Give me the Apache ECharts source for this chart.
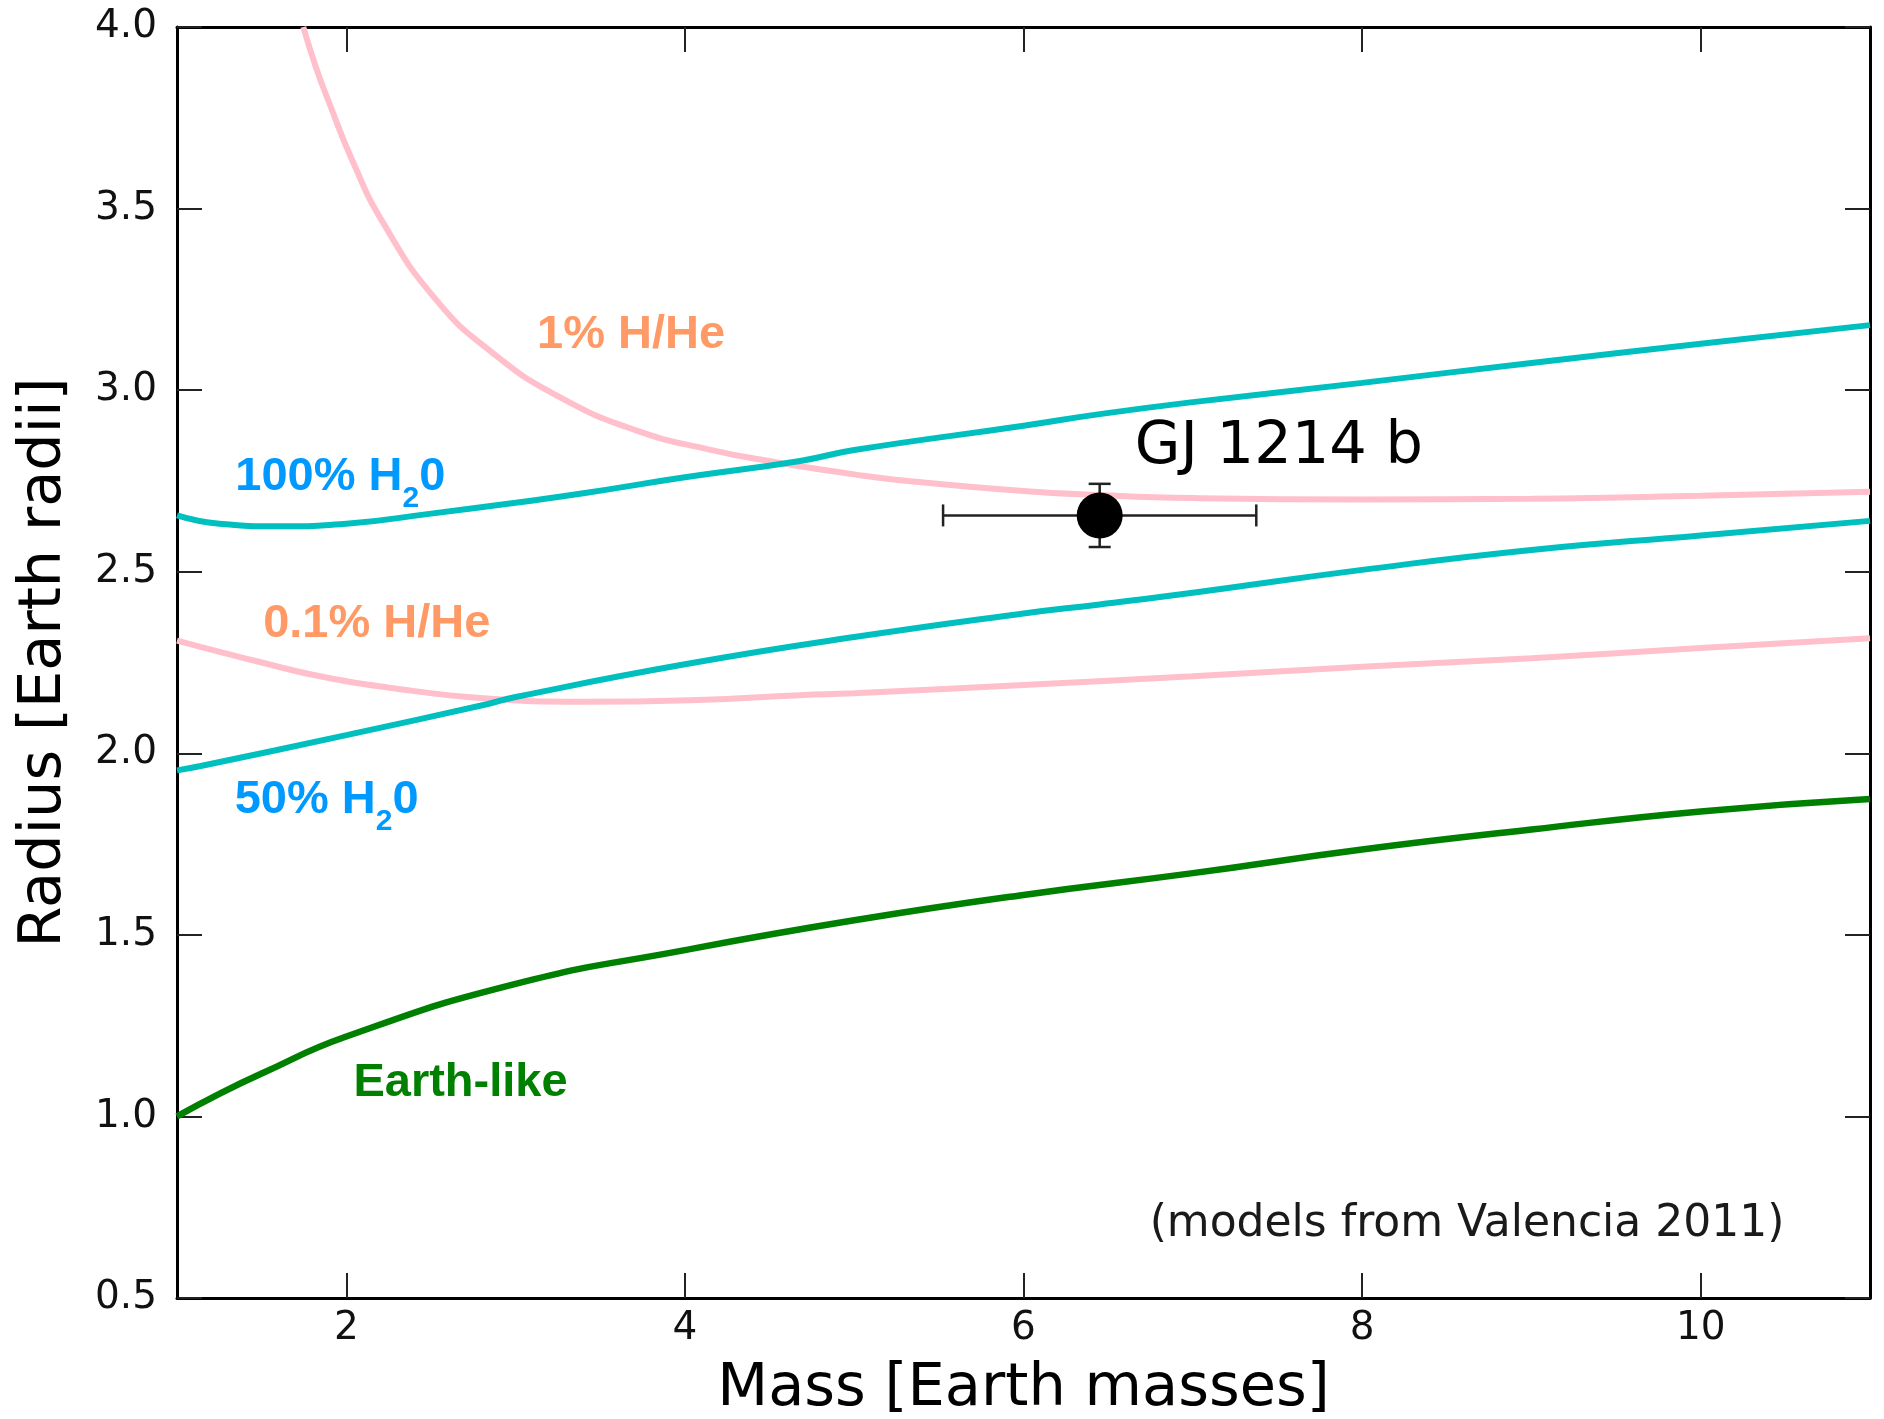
<!DOCTYPE html>
<html><head><meta charset="utf-8">
<script src="https://cdn.jsdelivr.net/npm/echarts@6/dist/echarts.min.js"></script>
<style>html,body{margin:0;padding:0;background:#fff}#c{width:1884px;height:1419px}</style>
</head><body><div id="c"></div>
<script>
// ---- data ----
const xTicks = [2, 4, 6, 8, 10];

const massHHe1 = [1.746, 1.82, 1.90, 2.035, 2.216, 2.532, 2.871, 3.255, 3.707, 4.159, 4.52, 5.0, 5.27, 6.0, 6.45, 7.0, 8.0, 9.0, 10.0, 11.0];
const radiusHHe1 = [4.00, 3.89, 3.79, 3.633, 3.462, 3.248, 3.10, 2.982, 2.89, 2.835, 2.803, 2.768, 2.752, 2.722, 2.711, 2.703, 2.699, 2.701, 2.709, 2.72];

const massHHe01 = [1.0, 1.139, 1.5, 1.815, 2.267, 2.83, 3.397, 4.074, 4.68, 5.0, 6.0, 7.0, 8.0, 9.0, 10.0, 11.0];
const radiusHHe01 = [2.31, 2.293, 2.25, 2.215, 2.18, 2.151, 2.142, 2.147, 2.16, 2.165, 2.188, 2.212, 2.238, 2.262, 2.29, 2.317];

const massH2O100 = [1.0, 1.25, 1.6, 2.0, 2.5, 3.0, 3.4, 4.0, 4.68, 5.0, 6.0, 6.45, 7.0, 8.0, 9.0, 10.0, 11.0];
const radiusH2O100 = [2.655, 2.632, 2.625, 2.632, 2.66, 2.69, 2.716, 2.76, 2.805, 2.835, 2.902, 2.934, 2.967, 3.02, 3.075, 3.128, 3.179];

const massH2O50 = [1.0, 1.14, 2.0, 2.83, 3.0, 4.0, 5.0, 6.0, 6.45, 7.0, 8.0, 9.0, 10.0, 11.0];
const radiusH2O50 = [1.953, 1.965, 2.05, 2.135, 2.155, 2.245, 2.32, 2.385, 2.41, 2.442, 2.505, 2.56, 2.60, 2.64];

const massEarth = [1.0, 1.25, 1.5, 2.0, 3.0, 4.0, 5.0, 6.0, 7.0, 8.0, 9.0, 10.0, 11.0];
const radiusEarth = [1.0, 1.062, 1.118, 1.22, 1.365, 1.458, 1.54, 1.61, 1.67, 1.735, 1.79, 1.84, 1.874];

const planetName = 'GJ 1214 b';
const planetMass = 6.45, planetMassErr = 0.925;
const planetRadius = 2.655, planetRadiusErr = 0.087;

// annotation texts and their anchors (data units: left edge, text middle)
const annotations = [
  {parts: ['1% H/He'], x: 3.127, y: 3.152, kind: 'orange'},
  {parts: ['100% H', '2', '0'], x: 1.344, y: 2.760, kind: 'blue'},
  {parts: ['0.1% H/He'], x: 1.509, y: 2.356, kind: 'orange'},
  {parts: ['50% H', '2', '0'], x: 1.341, y: 1.870, kind: 'blue'},
  {parts: ['Earth-like'], x: 2.042, y: 1.093, kind: 'green'},
  {parts: [planetName], x: 6.657, y: 2.842, kind: 'planet'},
  {parts: ['(models from Valencia 2011)'], x: 6.745, y: 0.702, kind: 'note'}
];

const zip = (a, b) => a.map((v, i) => [v, b[i]]);

const tickStyle = {color: '#222', width: 2};
const axisLineStyle = {color: '#000', width: 3};
const labelFont = {fontSize: 39, fontFamily: 'DejaVu Sans', color: '#111'};

function lineSeries(name, xs, ys, color, width, z) {
  return {type: 'line', name, data: zip(xs, ys), showSymbol: false, symbol: 'none',
    smooth: 0.5, lineStyle: {color, width}, z, clip: true, animation: false};
}

const option = {
  animation: false,
  backgroundColor: '#fff',
  grid: {left: 177, right: 14, top: 27, bottom: 121, containLabel: false, outerBoundsMode: 'none'},
  xAxis: [
    {type: 'value', min: 1, max: 11, position: 'bottom',
     axisLine: {onZero: false, lineStyle: axisLineStyle},
     axisTick: {inside: true, length: 25, customValues: xTicks, lineStyle: tickStyle},
     axisLabel: Object.assign({customValues: xTicks, margin: 11}, labelFont),
     splitLine: {show: false},
     name: 'Mass [Earth masses]', nameLocation: 'middle', nameGap: 62,
     nameTextStyle: {fontSize: 59, fontFamily: 'DejaVu Sans', color: '#000'}},
    {type: 'value', min: 1, max: 11, position: 'top',
     axisLine: {onZero: false, lineStyle: axisLineStyle},
     axisTick: {inside: true, length: 25, customValues: xTicks, lineStyle: tickStyle},
     axisLabel: {show: false}, splitLine: {show: false}}
  ],
  yAxis: [
    {type: 'value', min: 0.5, max: 4.0, interval: 0.5, position: 'left',
     axisLine: {onZero: false, lineStyle: axisLineStyle},
     axisTick: {inside: true, length: 25, lineStyle: tickStyle},
     axisLabel: Object.assign({margin: 20, formatter: v => v.toFixed(1)}, labelFont),
     splitLine: {show: false},
     name: 'Radius [Earth radii]', nameLocation: 'middle', nameGap: 103,
     nameTextStyle: {fontSize: 59, fontFamily: 'DejaVu Sans', color: '#000'}},
    {type: 'value', min: 0.5, max: 4.0, interval: 0.5, position: 'right',
     axisLine: {onZero: false, lineStyle: axisLineStyle},
     axisTick: {inside: true, length: 25, lineStyle: tickStyle},
     axisLabel: {show: false}, splitLine: {show: false}}
  ],
  series: [
    lineSeries('1% H/He', massHHe1, radiusHHe1, '#FFC0CB', 6, 2),
    lineSeries('0.1% H/He', massHHe01, radiusHHe01, '#FFC0CB', 6, 2),
    lineSeries('100% H2O', massH2O100, radiusH2O100, '#00BFBF', 6, 3),
    lineSeries('50% H2O', massH2O50, radiusH2O50, '#00BFBF', 6, 3),
    lineSeries('Earth-like', massEarth, radiusEarth, '#008000', 6.5, 4),
    {type: 'custom', name: 'errorbar', z: 5, animation: false,
     data: [[planetMass, planetRadius, planetMassErr, planetRadiusErr]],
     renderItem: function (params, api) {
       const x = api.value(0), y = api.value(1), ex = api.value(2), ey = api.value(3);
       const l = api.coord([x - ex, y]), r = api.coord([x + ex, y]);
       const t = api.coord([x, y + ey]), b = api.coord([x, y - ey]);
       const cap = 11;
       const st = {stroke: '#222', lineWidth: 2.5};
       const ln = (x1, y1, x2, y2) => ({type: 'line', shape: {x1, y1, x2, y2}, style: st});
       return {type: 'group', children: [
         ln(l[0], l[1], r[0], r[1]),
         ln(l[0], l[1] - cap, l[0], l[1] + cap),
         ln(r[0], r[1] - cap, r[0], r[1] + cap),
         ln(t[0], t[1], b[0], b[1]),
         ln(t[0] - cap, t[1], t[0] + cap, t[1]),
         ln(b[0] - cap, b[1], b[0] + cap, b[1])
       ]};
     }},
    {type: 'scatter', name: planetName, z: 6, symbol: 'circle', symbolSize: 46,
     itemStyle: {color: '#000', opacity: 1}, data: [[planetMass, planetRadius]], animation: false}
  ]
};

const chart = echarts.init(document.getElementById('c'), null, {renderer: 'canvas'});
chart.setOption(option);

// ---- annotations placed through the axes' scales ----
const styles = {
  orange: {fontSize: 47, fontWeight: 'bold', fontFamily: 'Liberation Sans', fill: '#FF9966'},
  blue: {fontSize: 47, fontWeight: 'bold', fontFamily: 'Liberation Sans', fill: '#0099FF'},
  green: {fontSize: 47, fontWeight: 'bold', fontFamily: 'Liberation Sans', fill: '#008000'},
  planet: {fontSize: 59, fontWeight: 'normal', fontFamily: 'DejaVu Sans', fill: '#000'},
  note: {fontSize: 44, fontWeight: 'normal', fontFamily: 'DejaVu Sans', fill: '#1a1a1a'}
};
const mctx = document.createElement('canvas').getContext('2d');
function measure(text, s) {
  mctx.font = s.fontWeight + ' ' + s.fontSize + 'px "' + s.fontFamily + '"';
  return mctx.measureText(text).width;
}
const elements = [];
annotations.forEach(a => {
  const p = chart.convertToPixel({xAxisIndex: 0, yAxisIndex: 0}, [a.x, a.y]);
  const s = styles[a.kind];
  let cx = p[0];
  a.parts.forEach((t, i) => {
    const isSub = a.parts.length === 3 && i === 1;
    const st = isSub ? Object.assign({}, s, {fontSize: 30}) : s;
    elements.push({type: 'text', x: cx, y: p[1] + (isSub ? 21 : 0), z: 100,
      style: {text: t, fontSize: st.fontSize, fontWeight: st.fontWeight, fontFamily: st.fontFamily,
        fill: st.fill, textAlign: 'left', textVerticalAlign: 'middle', align: 'left', verticalAlign: 'middle'}});
    cx += measure(t, st);
  });
});
chart.setOption({graphic: elements});
</script>
</body></html>
